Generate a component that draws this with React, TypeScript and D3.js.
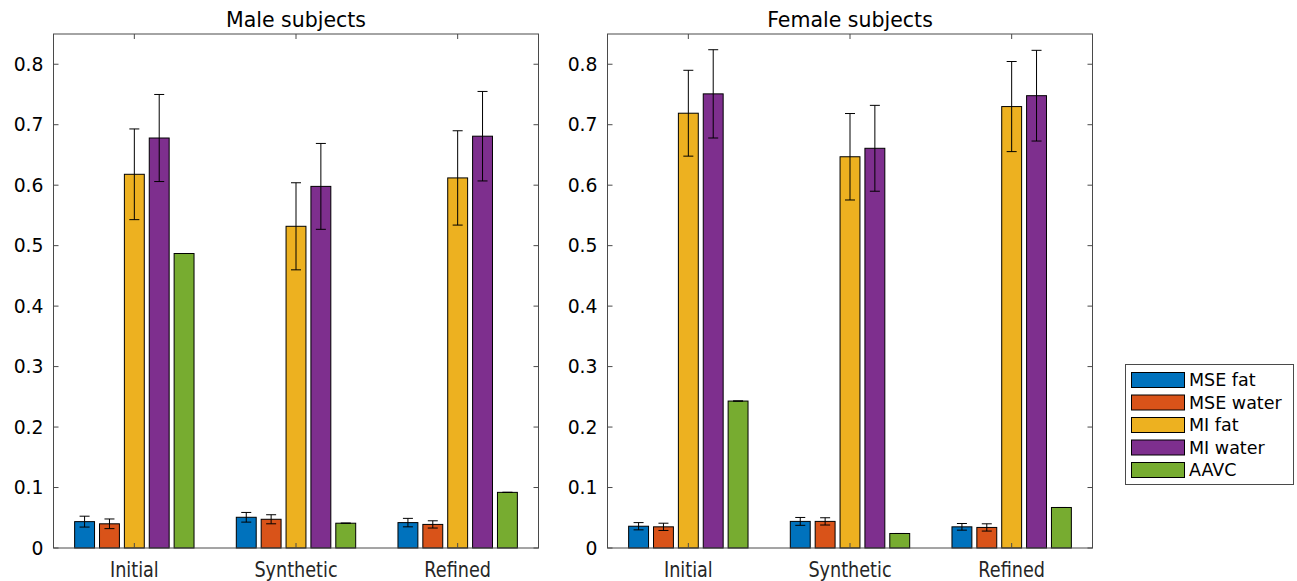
import React from "react";
import * as d3 from "d3";

const categories = ["Initial", "Synthetic", "Refined"];
const seriesNames = ["MSE fat", "MSE water", "MI fat", "MI water", "AAVC"];
const colors = ["#0072BD", "#D95319", "#EDB120", "#7E2F8E", "#77AC30"];
const yTicks = [0, 0.1, 0.2, 0.3, 0.4, 0.5, 0.6, 0.7, 0.8];

// values per series, per category (Initial, Synthetic, Refined)
const maleValues = [
  [0.0436, 0.0508, 0.042],
  [0.040, 0.0475, 0.039],
  [0.618, 0.532, 0.612],
  [0.678, 0.598, 0.681],
  [0.487, 0.041, 0.092],
];
const maleErrors = [
  [0.009, 0.008, 0.007],
  [0.008, 0.0075, 0.006],
  [0.075, 0.072, 0.078],
  [0.072, 0.071, 0.074],
  [0, 0, 0],
];
const femaleValues = [
  [0.036, 0.044, 0.035],
  [0.035, 0.044, 0.034],
  [0.719, 0.647, 0.730],
  [0.751, 0.661, 0.748],
  [0.243, 0.024, 0.067],
];
const femaleErrors = [
  [0.006, 0.0065, 0.0055],
  [0.006, 0.006, 0.006],
  [0.071, 0.0715, 0.0745],
  [0.073, 0.071, 0.075],
  [0, 0, 0],
];

const FONT = "DejaVu Sans, sans-serif";
const AXIS = "#4a4a4a";

function Panel({ left, title, values, errors }: { left: number; title: string; values: number[][]; errors: number[][] }) {
  const width = 485;
  const top = 34;
  const bottom = 548;
  const x = d3.scaleLinear().domain([0.5, 3.5]).range([left, left + width]);
  const y = d3.scaleLinear().domain([0, 0.85]).range([bottom, top]);
  const n = seriesNames.length;
  const groupWidth = Math.min(0.8, n / (n + 1.5));
  const barW = (0.8 * groupWidth) / n;
  const tickLen = 5;
  return (
    <g>
      <text x={left + width / 2} y={27} textAnchor="middle" fontFamily={FONT} fontSize={20.5} fill="#000">
        {title}
      </text>
      {values.map((sv, si) =>
        sv.map((v, ci) => {
          const cx = ci + 1 + (si - (n - 1) / 2) * (groupWidth / n);
          const x0 = x(cx - barW / 2);
          const x1 = x(cx + barW / 2);
          const e = errors[si][ci];
          const mid = x(cx);
          return (
            <g key={`${si}-${ci}`}>
              <rect x={x0} y={y(v)} width={x1 - x0} height={y(0) - y(v)} fill={colors[si]} stroke="#000" strokeWidth={1} />
              <g stroke="#000" strokeWidth={1}>
                {e > 0 && <line x1={mid} x2={mid} y1={y(v + e)} y2={y(v - e)} />}
                <line x1={mid - 5} x2={mid + 5} y1={y(v + e)} y2={y(v + e)} />
                <line x1={mid - 5} x2={mid + 5} y1={y(v - e)} y2={y(v - e)} />
              </g>
            </g>
          );
        })
      )}
      <rect x={left} y={top} width={width} height={bottom - top} fill="none" stroke={AXIS} strokeWidth={1} />
      {yTicks.map((t) => (
        <g key={t}>
          <line x1={left} x2={left + tickLen} y1={y(t)} y2={y(t)} stroke={AXIS} />
          <line x1={left + width} x2={left + width - tickLen} y1={y(t)} y2={y(t)} stroke={AXIS} />
          <text x={left - 10} y={y(t)} dy="0.36em" textAnchor="end" fontFamily={FONT} fontSize={18.8} fill="#000">
            {t === 0 ? "0" : d3.format(".1f")(t)}
          </text>
        </g>
      ))}
      {categories.map((c, i) => (
        <g key={c}>
          <line x1={x(i + 1)} x2={x(i + 1)} y1={bottom} y2={bottom - tickLen} stroke={AXIS} />
          <line x1={x(i + 1)} x2={x(i + 1)} y1={top} y2={top + tickLen} stroke={AXIS} />
          <text
            transform={`translate(${x(i + 1)},577) scale(0.82,1)`}
            textAnchor="middle"
            fontFamily={FONT}
            fontSize={21.5}
            fill="#262626"
          >
            {c}
          </text>
        </g>
      ))}
    </g>
  );
}

export default function App() {
  const legendX = 1125;
  const legendY = 364;
  return (
    <svg width={1297} height={581} style={{ display: "block", position: "absolute", left: 0, top: 0 }}>
      <rect width={1297} height={581} fill="#fff" />
      <Panel left={53.5} title="Male subjects" values={maleValues} errors={maleErrors} />
      <Panel left={607.5} title="Female subjects" values={femaleValues} errors={femaleErrors} />
      <g>
        <rect x={legendX + 0.5} y={legendY + 0.5} width={168} height={120} fill="#fff" stroke={AXIS} />
        {seriesNames.map((s, i) => (
          <g key={s}>
            <rect x={legendX + 6.5} y={legendY + 8.5 + i * 22.5} width={53} height={15} fill={colors[i]} stroke="#000" />
            <text x={legendX + 64} y={legendY + 16 + i * 22.5} dy="0.36em" fontFamily={FONT} fontSize={17.5} fill="#000">
              {s}
            </text>
          </g>
        ))}
      </g>
    </svg>
  );
}
